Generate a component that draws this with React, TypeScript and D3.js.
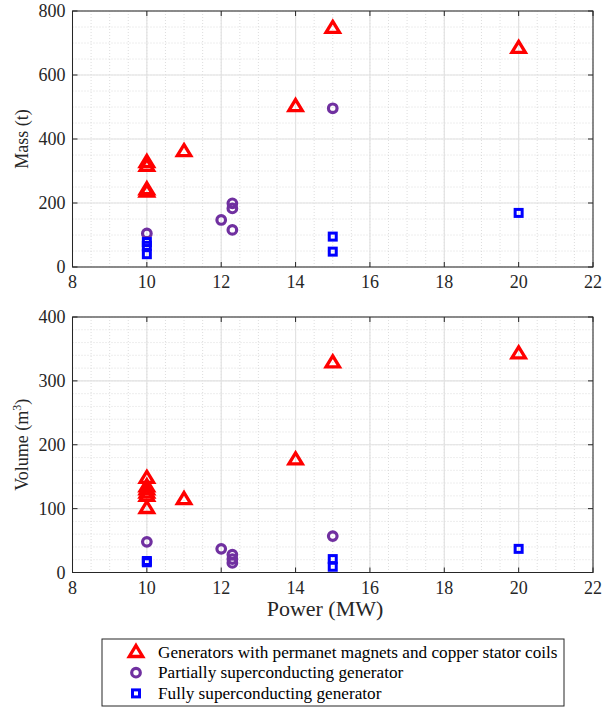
import React from "react";
import * as d3 from "d3";

// Rated power (MW) and results for each generator family
const pmPower = [10, 10, 10, 10, 11, 14, 15, 20];
const pmMass = [328, 316, 243, 236, 362, 503, 747, 685];
const pmVolPower = [10, 10, 10, 10, 10, 10, 11, 14, 15, 20];
const pmVolume = [148, 135, 130, 125, 120, 101, 115, 177, 329, 343];

const psPower = [10, 12, 12.3, 12.3, 12.3, 15];
const psMass = [105, 147, 199, 183, 116, 496];
const psVolPower = [10, 12, 12.3, 12.3, 12.3, 15];
const psVolume = [48, 37, 28, 21, 15, 57];

const fsPower = [10, 10, 10, 15, 15, 20];
const fsMass = [78, 66, 40, 95, 48, 169];
const fsVolPower = [10, 10, 15, 15, 20];
const fsVolume = [18, 16, 21, 9, 37];

const xTicks = [8, 10, 12, 14, 16, 18, 20, 22];
const massTicks = [0, 200, 400, 600, 800];
const volTicks = [0, 100, 200, 300, 400];

const legendLabels = [
  "Generators with permanet magnets and copper stator coils",
  "Partially superconducting generator",
  "Fully superconducting generator",
];

const RED = "#ff0000";
const PURPLE = "#7030a0";
const BLUE = "#0000ff";
const FONT = "Liberation Serif, Times New Roman, Times, Nimbus Roman, DejaVu Serif, serif";

const W = 605;
const H = 707;
const left = 72.5;
const right = 593;

const x = d3.scaleLinear().domain([8, 22]).range([left, right]);

type Marker = "tri" | "circ" | "sq";

function MarkerShape({ kind, cx, cy, color }: { kind: Marker; cx: number; cy: number; color: string }) {
  if (kind === "tri") {
    const p = d3.path();
    p.moveTo(cx, cy - 6.5);
    p.lineTo(cx + 6.7, cy + 4.5);
    p.lineTo(cx - 6.7, cy + 4.5);
    p.closePath();
    return <path d={p.toString()} fill="none" stroke={color} strokeWidth={3.3} strokeLinejoin="miter" />;
  }
  if (kind === "circ") {
    return <circle cx={cx} cy={cy} r={4.3} fill="none" stroke={color} strokeWidth={3.2} />;
  }
  return <rect x={cx - 3.5} y={cy - 3.5} width={7} height={7} fill="none" stroke={color} strokeWidth={3} />;
}

function Panel({
  top,
  bottom,
  yMax,
  yTicks,
  yMinorStep,
  label,
  series,
}: {
  top: number;
  bottom: number;
  yMax: number;
  yTicks: number[];
  yMinorStep: number;
  label: React.ReactNode;
  series: { kind: Marker; color: string; xs: number[]; ys: number[] }[];
}) {
  const y = d3.scaleLinear().domain([0, yMax]).range([bottom, top]);
  const xMinor = d3.range(8, 22.001, 0.5);
  const yMinor = d3.range(0, yMax + 0.001, yMinorStep);
  return (
    <g>
      {/* minor grid */}
      {xMinor.map((v) => (
        <line key={"xm" + v} x1={x(v)} x2={x(v)} y1={top} y2={bottom} stroke="#d4d4d4" strokeWidth={0.8} strokeDasharray="1,2" />
      ))}
      {yMinor.map((v) => (
        <line key={"ym" + v} x1={left} x2={right} y1={y(v)} y2={y(v)} stroke="#d4d4d4" strokeWidth={0.8} strokeDasharray="1,2" />
      ))}
      {/* major grid */}
      {xTicks.map((v) => (
        <line key={"xg" + v} x1={x(v)} x2={x(v)} y1={top} y2={bottom} stroke="#e2e2e2" strokeWidth={1.2} />
      ))}
      {yTicks.map((v) => (
        <line key={"yg" + v} x1={left} x2={right} y1={y(v)} y2={y(v)} stroke="#e2e2e2" strokeWidth={1.2} />
      ))}
      {/* box */}
      <rect x={left} y={top} width={right - left} height={bottom - top} fill="none" stroke="#262626" strokeWidth={1} />
      {xTicks.map((v) => (
        <g key={"xt" + v}>
          <line x1={x(v)} x2={x(v)} y1={bottom} y2={bottom - 5} stroke="#262626" />
          <line x1={x(v)} x2={x(v)} y1={top} y2={top + 5} stroke="#262626" />
          <text x={x(v)} y={bottom + 21} textAnchor="middle" fontSize={18} fontFamily={FONT} fill="#262626">
            {v}
          </text>
        </g>
      ))}
      {yTicks.map((v) => (
        <g key={"yt" + v}>
          <line x1={left} x2={left + 5} y1={y(v)} y2={y(v)} stroke="#262626" />
          <line x1={right} x2={right - 5} y1={y(v)} y2={y(v)} stroke="#262626" />
          <text x={left - 7} y={y(v) + 6} textAnchor="end" fontSize={18} fontFamily={FONT} fill="#262626">
            {v}
          </text>
        </g>
      ))}
      <text
        transform={`translate(28,${(top + bottom) / 2}) rotate(-90)`}
        textAnchor="middle"
        fontSize={18}
        fontFamily={FONT}
        fill="#262626"
      >
        {label}
      </text>
      {series.map((s, si) =>
        s.xs.map((xv, i) => <MarkerShape key={si + "-" + i} kind={s.kind} cx={x(xv)} cy={y(s.ys[i])} color={s.color} />)
      )}
    </g>
  );
}

export default function App() {
  const legendKinds: Marker[] = ["tri", "circ", "sq"];
  const legendColors = [RED, PURPLE, BLUE];
  return (
    <svg width={W} height={H} style={{ position: "absolute", left: 0, top: 0, background: "#fff" }}>
      <rect width={W} height={H} fill="#fff" />
      <Panel
        top={11}
        bottom={267}
        yMax={800}
        yTicks={massTicks}
        yMinorStep={50}
        label="Mass (t)"
        series={[
          { kind: "tri", color: RED, xs: pmPower, ys: pmMass },
          { kind: "circ", color: PURPLE, xs: psPower, ys: psMass },
          { kind: "sq", color: BLUE, xs: fsPower, ys: fsMass },
        ]}
      />
      <Panel
        top={317}
        bottom={572.5}
        yMax={400}
        yTicks={volTicks}
        yMinorStep={20}
        label={
          <>
            Volume (m
            <tspan dy={-7} fontSize={12}>
              3
            </tspan>
            <tspan dy={7}>)</tspan>
          </>
        }
        series={[
          { kind: "tri", color: RED, xs: pmVolPower, ys: pmVolume },
          { kind: "circ", color: PURPLE, xs: psVolPower, ys: psVolume },
          { kind: "sq", color: BLUE, xs: fsVolPower, ys: fsVolume },
        ]}
      />
      <text x={325} y={616} textAnchor="middle" fontSize={22} fontFamily={FONT} fill="#262626">
        Power (MW)
      </text>
      {/* legend */}
      <rect x={102} y={639} width={462} height={67} fill="#fff" stroke="#262626" strokeWidth={1} />
      {legendLabels.map((t, i) => (
        <g key={t}>
          <MarkerShape kind={legendKinds[i]} cx={136} cy={652 + i * 20.7} color={legendColors[i]} />
          <text x={158} y={657.5 + i * 20.7} fontSize={17.2} fontFamily={FONT} fill="#000">
            {t}
          </text>
        </g>
      ))}
    </svg>
  );
}
